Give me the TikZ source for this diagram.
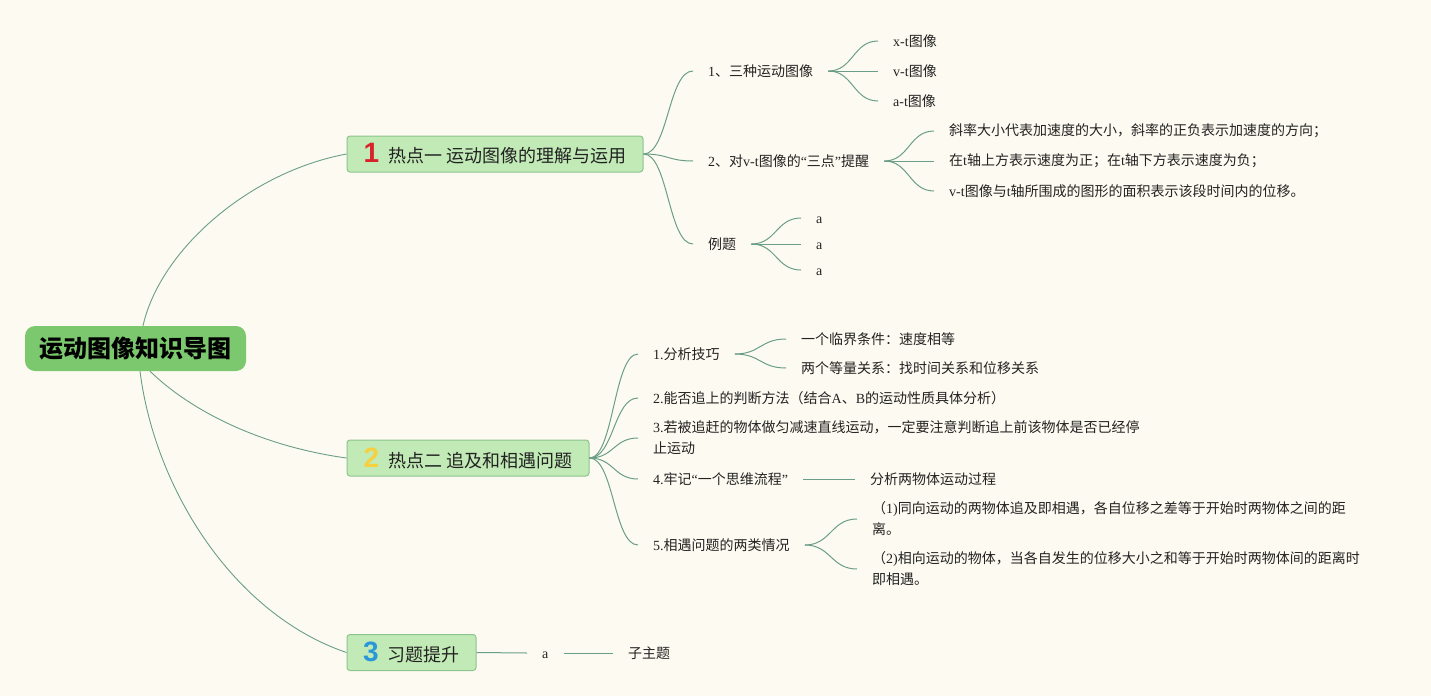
\documentclass[tikz,border=0pt]{standalone}
\usepackage{fontspec}
\setmainfont{Noto Sans CJK SC}
\newfontfamily\latn{Liberation Serif}
\newfontfamily\numf{Liberation Sans}
\usetikzlibrary{calc}
\definecolor{bg}{HTML}{FDFBF1}
\definecolor{rootfill}{HTML}{7CC86E}
\definecolor{brfill}{HTML}{C2EAB6}
\definecolor{brdraw}{HTML}{8CC491}
\definecolor{lnk}{HTML}{6A9E88}
\definecolor{txt}{HTML}{222222}
\definecolor{nred}{HTML}{D8232A}
\definecolor{nyel}{HTML}{F5D142}
\definecolor{nblu}{HTML}{2A98D8}
\newcommand\smallfs{\fontsize{14pt}{21pt}\selectfont}
\newcommand\brfs{\fontsize{18pt}{22pt}\selectfont}
\newcommand\rootfs{\fontsize{24pt}{28pt}\selectfont\bfseries}
\newcommand\bnum[2]{{\numf\bfseries\fontsize{28pt}{28pt}\selectfont\color{#1}#2}\hspace{9pt}}
\newcommand\la{{\latn a}\vphantom{图}}
\begin{document}
\begin{tikzpicture}[x=1pt,y=-1pt,
  rootnode/.style={fill=rootfill, rounded corners=10pt, minimum width=221pt, minimum height=45pt, inner sep=0pt, font=\rootfs, text=black},
  branch/.style={fill=brfill, draw=brdraw, line width=1pt, rounded corners=3pt, minimum height=36pt, inner sep=0pt, font=\brfs, text=txt},
  leaf/.style={anchor=west, inner xsep=15pt, inner ysep=2pt, font=\smallfs, text=txt, align=left},
  rootconn/.style={draw=lnk, line width=0.9pt},
  conn/.style={draw=lnk, line width=1pt, to path={.. controls ($(\tikztostart)!0.5!(\tikztostart-|\tikztotarget)$) and ($(\tikztotarget)!0.5!(\tikztotarget-|\tikztostart)$) .. (\tikztotarget) \tikztonodes}}
]
\fill[bg] (0,0) rectangle (1431,696);
\useasboundingbox (0,0) rectangle (1431,696);

% root and main branches
\node[rootnode] (root) at (135.5,348.5) {运动图像知识导图};
\node[branch, minimum width=296pt] (b1) at (495,154) {\bnum{nred}{1}热点一 运动图像的理解与运用};
\node[branch, minimum width=242pt] (b2) at (468,458) {\bnum{nyel}{2}热点二 追及和相遇问题};
\node[branch, minimum width=129pt] (b3) at (411.5,652.5) {\bnum{nblu}{3}习题提升};

\draw[rootconn] ([xshift=7.5pt]root.north) .. controls +(17,-76) and +(-97,18) .. (b1.west);
\draw[rootconn] ([xshift=14.5pt]root.south) .. controls +(40,39) and +(-87,-12) .. (b2.west);
\draw[rootconn] ([xshift=4.5pt]root.south) .. controls +(15,119) and +(-112,-38) .. (b3.west);

% branch 1
\node[leaf] (c11) at (693,71) {{\latn 1}、三种运动图像};
\node[leaf] (c12) at (693,161) {{\latn 2}、对{\latn v-t}图像的{\latn “}三点{\latn ”}提醒};
\node[leaf] (c13) at (693,244) {例题};
\node[leaf] (c111) at (878,41) {{\latn x-t}图像};
\node[leaf] (c112) at (878,71) {{\latn v-t}图像};
\node[leaf] (c113) at (878,101) {{\latn a-t}图像};
\node[leaf] (c121) at (934,131) {斜率大小代表加速度的大小，斜率的正负表示加速度的方向；};
\node[leaf] (c122) at (934,161) {在{\latn t}轴上方表示速度为正；在{\latn t}轴下方表示速度为负；};
\node[leaf] (c123) at (934,191) {{\latn v-t}图像与{\latn t}轴所围成的图形的面积表示该段时间内的位移。};
\node[leaf] (c131) at (801,218) {\la};
\node[leaf] (c132) at (801,244) {\la};
\node[leaf] (c133) at (801,270) {\la};

\foreach \c in {c11,c12,c13} \draw[conn] (b1.east) to (\c.west);
\foreach \c in {c111,c112,c113} \draw[conn] (c11.east) to (\c.west);
\foreach \c in {c121,c122,c123} \draw[conn] (c12.east) to (\c.west);
\foreach \c in {c131,c132,c133} \draw[conn] (c13.east) to (\c.west);

% branch 2
\node[leaf] (c21) at (638,354) {{\latn 1.}分析技巧};
\node[leaf] (c22) at (638,398) {{\latn 2.}能否追上的判断方法（结合{\latn A}、{\latn B}的运动性质具体分析）};
\node[leaf] (c23) at (638,438) {{\latn 3.}若被追赶的物体做匀减速直线运动，一定要注意判断追上前该物体是否已经停\\止运动};
\node[leaf] (c24) at (638,479) {{\latn 4.}牢记{\latn “}一个思维流程{\latn ”}};
\node[leaf] (c25) at (638,545) {{\latn 5.}相遇问题的两类情况};
\node[leaf] (c211) at (786,339) {一个临界条件：速度相等};
\node[leaf] (c212) at (786,368) {两个等量关系：找时间关系和位移关系};
\node[leaf] (c241) at (855,479) {分析两物体运动过程};
\node[leaf] (c251) at (857,519) {（{\latn 1)}同向运动的两物体追及即相遇，各自位移之差等于开始时两物体之间的距\\离。};
\node[leaf] (c252) at (857,569) {（{\latn 2)}相向运动的物体，当各自发生的位移大小之和等于开始时两物体间的距离时\\即相遇。};

\foreach \c in {c21,c22,c23,c24,c25} \draw[conn] (b2.east) to (\c.west);
\foreach \c in {c211,c212} \draw[conn] (c21.east) to (\c.west);
\draw[conn] (c24.east) to (c241.west);
\foreach \c in {c251,c252} \draw[conn] (c25.east) to (\c.west);

% branch 3
\node[leaf] (c31) at (527,653) {\la};
\node[leaf] (c32) at (613,653) {子主题};
\draw[conn] (b3.east) to (c31.west);
\draw[conn] (c31.east) to (c32.west);
\end{tikzpicture}
\end{document}
